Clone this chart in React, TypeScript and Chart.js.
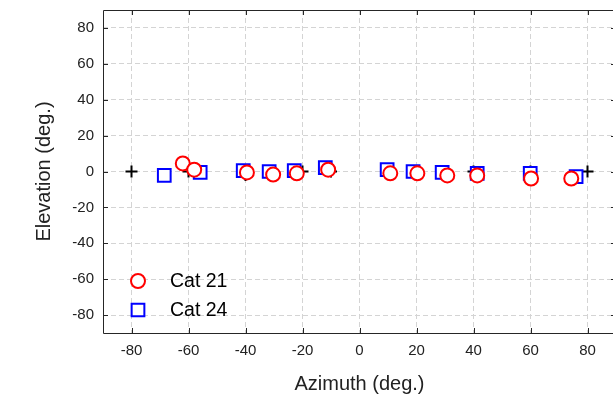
import React, { useEffect, useRef } from "react";
import { Chart, registerables } from "chart.js";

Chart.register(...registerables);

const cat21Azimuth = [-62, -58, -39.5, -30.3, -22, -11, 10.8, 20.3, 30.8, 41.3, 60.2, 74.3];
const cat21Elevation = [4.5, 1, -0.5, -1.7, -1, 1, -1, -1, -2.2, -2.2, -3.9, -3.9];
const cat24Azimuth = [-68.5, -55.9, -40.8, -31.7, -22.9, -12, 9.7, 18.8, 29, 41.3, 59.9, 76];
const cat24Elevation = [-2.2, -0.5, 0.5, 0, 0.5, 2.2, 1, 0, -0.5, -1, -1, -2.8];
const targetAzimuth = [-80, -60, -40, -20, -10, 10, 20, 30, 40, 60, 80];
const targetElevation = [0, 0, -2, 0, 0, 0, 0, 0, 0, 0, 0];
const xTickValues = [-80, -60, -40, -20, 0, 20, 40, 60, 80];
const yTickValues = [-80, -60, -40, -20, 0, 20, 40, 60, 80];
const legendLabels = ["Cat 21", "Cat 24"];

const FONT = "'Liberation Sans', Arial, sans-serif";

const framePlugin = {
  id: "frame",
  afterDatasetsDraw(chart: any) {
    const { ctx, chartArea } = chart;
    const { left, right, top, bottom } = chartArea;
    const xs = chart.scales.x;
    const ys = chart.scales.y;
    ctx.save();
    ctx.strokeStyle = "#262626";
    ctx.lineWidth = 1;
    ctx.beginPath();
    const tl = 5;
    xs.ticks.forEach((t: any) => {
      const px = Math.round(xs.getPixelForValue(t.value)) + 0.5;
      ctx.moveTo(px, bottom);
      ctx.lineTo(px, bottom - tl);
      ctx.moveTo(px, top);
      ctx.lineTo(px, top + tl);
    });
    ys.ticks.forEach((t: any) => {
      const py = Math.round(ys.getPixelForValue(t.value)) + 0.5;
      ctx.moveTo(left, py);
      ctx.lineTo(left + tl, py);
      ctx.moveTo(right, py);
      ctx.lineTo(right - tl, py);
    });
    ctx.stroke();
    ctx.beginPath();
    ctx.rect(Math.round(left) + 0.5, Math.round(top) + 0.5, Math.round(right - left), Math.round(bottom - top));
    ctx.stroke();

    // legend inside plot, lower left
    const ds = chart.data.datasets;
    const items = [ds[0], ds[1]];
    const lx = left + 35;
    const rowY = [bottom - 52, bottom - 23];
    items.forEach((d: any, i: number) => {
      const y = rowY[i];
      ctx.lineWidth = 2;
      ctx.strokeStyle = d.borderColor;
      ctx.fillStyle = "#ffffff";
      ctx.beginPath();
      if (d.pointStyle === "circle") {
        ctx.arc(lx, y, d.pointRadius, 0, Math.PI * 2);
      } else {
        const s = d.pointRadius * Math.SQRT1_2;
        ctx.rect(lx - s, y - s, 2 * s, 2 * s);
      }
      ctx.fill();
      ctx.stroke();
      ctx.fillStyle = "#000000";
      ctx.font = `19.5px ${FONT}`;
      ctx.textBaseline = "middle";
      ctx.textAlign = "left";
      ctx.fillText(legendLabels[i], lx + 32, y + 1);
    });
    ctx.restore();
  },
};

export default function App() {
  const ref = useRef<HTMLCanvasElement | null>(null);
  useEffect(() => {
    document.body.style.margin = "8px 0 0 8px";
    document.body.style.overflow = "hidden";
    if (!ref.current) return;
    const toPts = (xs: number[], ys: number[]) => xs.map((x, i) => ({ x, y: ys[i] }));
    const chart = new Chart(ref.current, {
      type: "scatter",
      data: {
        datasets: [
          {
            label: legendLabels[0],
            data: toPts(cat21Azimuth, cat21Elevation),
            pointStyle: "circle",
            pointRadius: 7,
            borderColor: "#ff0000",
            backgroundColor: "#ffffff",
            borderWidth: 2,
          } as any,
          {
            label: legendLabels[1],
            data: toPts(cat24Azimuth, cat24Elevation),
            pointStyle: "rect",
            pointRadius: 9,
            borderColor: "#0000ff",
            backgroundColor: "#ffffff",
            borderWidth: 2,
          } as any,
          {
            label: "Target",
            data: toPts(targetAzimuth, targetElevation),
            pointStyle: "cross",
            pointRadius: 6,
            borderColor: "#000000",
            backgroundColor: "#000000",
            borderWidth: 2,
          } as any,
        ],
      },
      options: {
        animation: false,
        responsive: false,
        events: [],
        layout: { autoPadding: false, padding: { top: 2, right: 12, left: 0, bottom: 0 } },
        plugins: { legend: { display: false }, tooltip: { enabled: false } },
        scales: {
          x: {
            type: "linear",
            min: -90,
            max: 90,
            afterBuildTicks: (s: any) => {
              s.ticks = xTickValues.map((v) => ({ value: v }));
            },
            afterFit: (s: any) => {
              s.height = 61;
              s.paddingLeft = 0;
              s.paddingRight = 0;
            },
            grid: { color: "#d4d4d4", lineWidth: 1, drawTicks: false },
            border: { display: false, dash: [5, 3] },
            ticks: {
              padding: 9,
              color: "#222222",
              font: { family: FONT, size: 15 },
              maxRotation: 0,
            },
            title: {
              display: true,
              text: "Azimuth (deg.)",
              color: "#222222",
              font: { family: FONT, size: 20 },
              padding: { top: 0, bottom: -2 },
            },
          },
          y: {
            type: "linear",
            min: -90,
            max: 90,
            afterBuildTicks: (s: any) => {
              s.ticks = yTickValues.map((v) => ({ value: v }));
            },
            afterFit: (s: any) => {
              s.width = 95;
              s.paddingTop = 0;
              s.paddingBottom = 0;
            },
            grid: { color: "#d4d4d4", lineWidth: 1, drawTicks: false },
            border: { display: false, dash: [5, 3] },
            ticks: {
              padding: 9,
              color: "#222222",
              font: { family: FONT, size: 15 },
            },
            title: {
              display: true,
              text: "Elevation (deg.)",
              color: "#222222",
              font: { family: FONT, size: 20 },
              padding: { top: 24, bottom: 0 },
            },
          },
        },
      },
      plugins: [framePlugin],
    });
    return () => chart.destroy();
  }, []);
  return (
    <div style={{ width: 605, height: 386, overflow: "hidden" }}>
      <canvas ref={ref} width={620} height={386} style={{ display: "block", width: 620, height: 386 }} />
    </div>
  );
}
